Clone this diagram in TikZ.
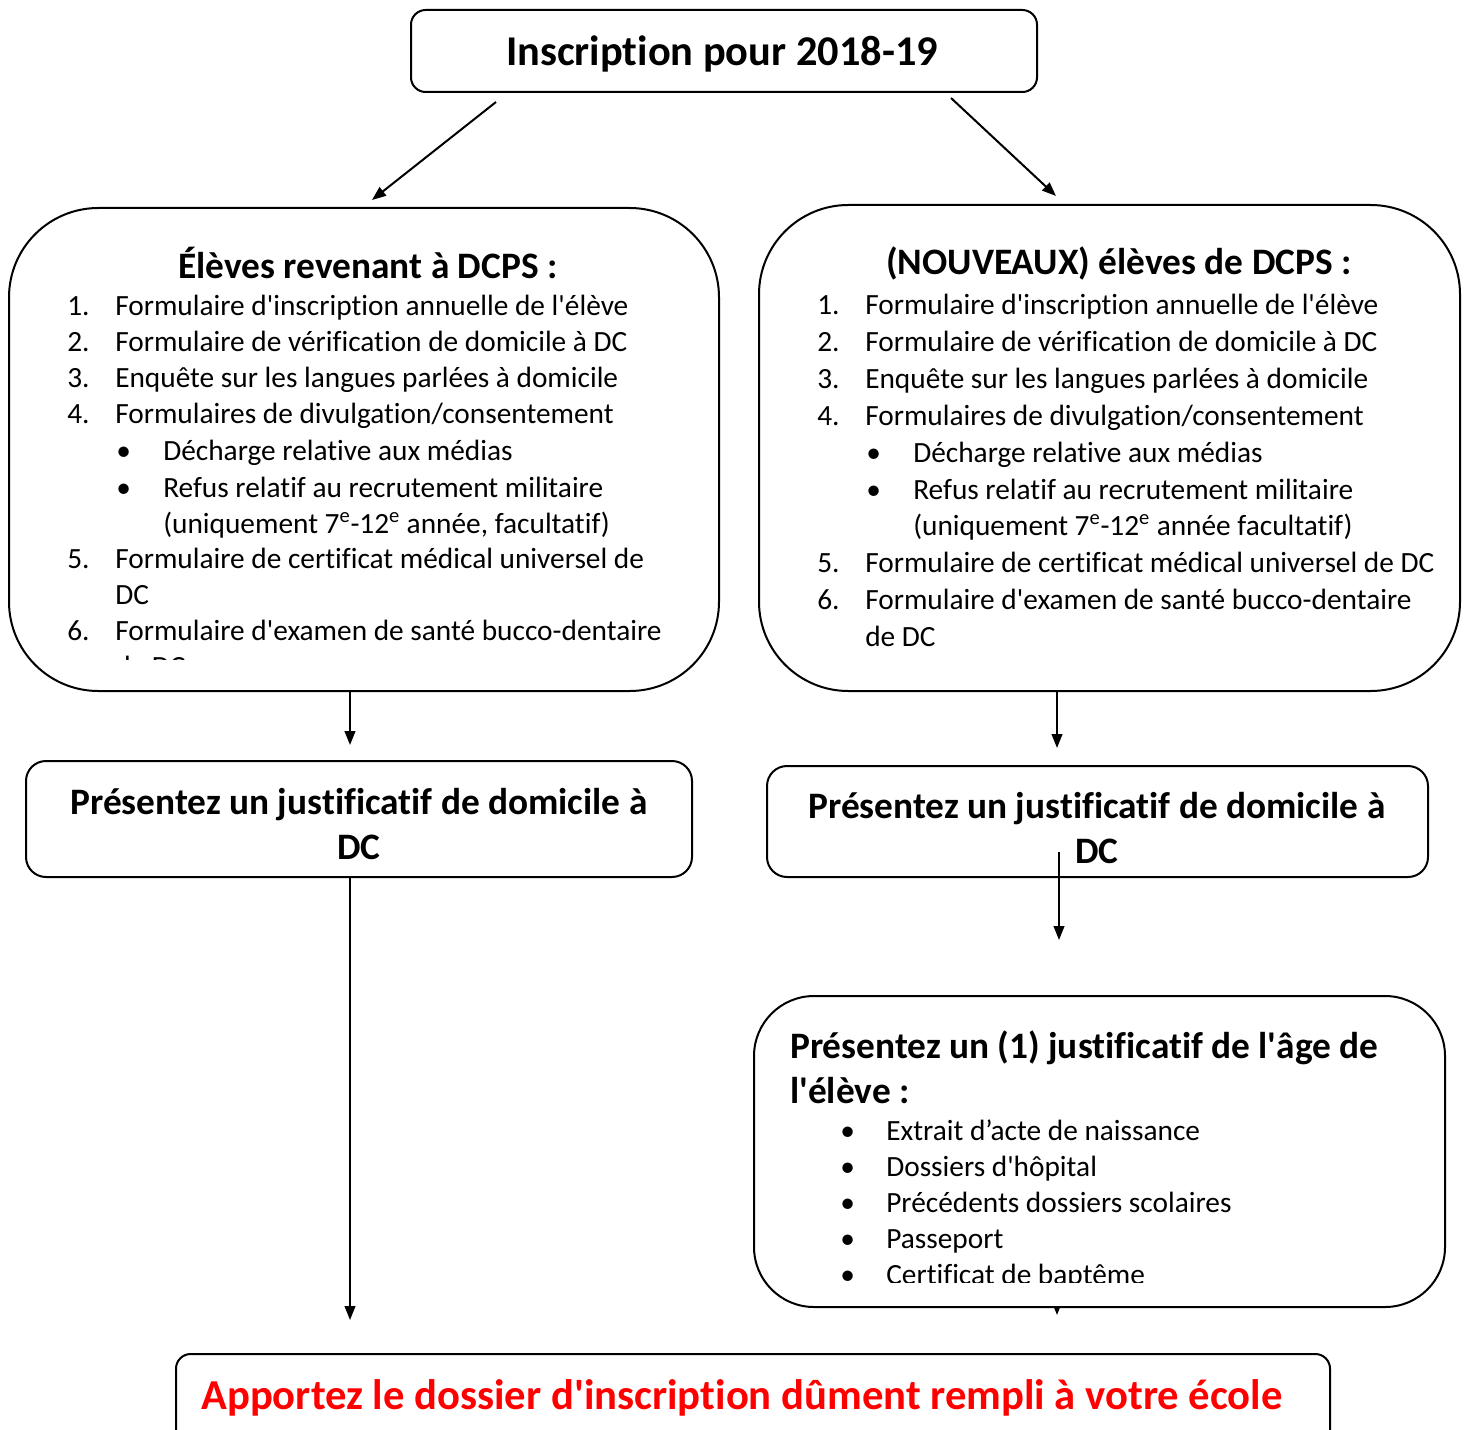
\documentclass[tikz,border=0pt]{standalone}
\usepackage{fontspec}
\setmainfont{Carlito}[Ligatures={TeXOff,NoCommon}]
\usetikzlibrary{arrows.meta}
\begin{document}
\begin{tikzpicture}[x=0.75pt,y=-0.75pt,
  box/.style={draw, line width=1.5pt, fill=white, inner sep=0},
  arr/.style={-{Triangle[length=10.5pt,width=8pt]}, line width=1.5pt},
  body/.style={inner sep=0, anchor=base west, font=\fontsize{22}{26}\selectfont},
  head/.style={inner sep=0, anchor=base, font=\fontsize{28}{32}\selectfont\bfseries},
  big/.style={inner sep=0, anchor=base, font=\fontsize{28}{32}\selectfont\bfseries},
  bigw/.style={inner sep=0, anchor=base west, font=\fontsize{28}{32}\selectfont\bfseries}]
\useasboundingbox (0,0) rectangle (1466,1430);

% boxes
\node[box, rounded corners=11pt, minimum width=469.5pt, minimum height=61.5pt] (top) at (724,51) {};
\node[inner sep=0, anchor=base, font=\fontsize{31.8}{36}\selectfont\bfseries] (toptxt) at (722,66) {Inscription pour 2018-19};

\node[box, rounded corners=67pt, minimum width=532.5pt, minimum height=362.25pt] (lbig) at (364,449.5) {};
\node[box, rounded corners=67pt, minimum width=525.75pt, minimum height=364.5pt] (rbig) at (1109.5,448) {};
\node[box, rounded corners=15pt, minimum width=499.5pt, minimum height=87pt] (lmid) at (359,819) {};
\node[box, rounded corners=15pt, minimum width=495.75pt, minimum height=83.25pt] (rmid) at (1097.5,821.5) {};

% small arrow below age box (mostly hidden)
\coordinate (a6s) at (1057,1290);
\coordinate (a6e) at (1057,1315);
\draw[arr] (a6s) -- (a6e);
\node[box, rounded corners=45pt, minimum width=518.25pt, minimum height=233.25pt] (rage) at (1099.5,1151.5) {};
\node[box, rounded corners=11pt, minimum width=865.5pt, minimum height=72pt] (final) at (753,1402) {};

% arrows
\coordinate (a1s) at (496,102); \coordinate (a1e) at (372,200);
\coordinate (a2s) at (951,98);  \coordinate (a2e) at (1056,196);
\coordinate (a3s) at (350,691); \coordinate (a3e) at (350,745);
\coordinate (a4s) at (1057,691); \coordinate (a4e) at (1057,748);
\coordinate (a5s) at (350,877); \coordinate (a5e) at (350,1320);
\coordinate (a7s) at (1059,852); \coordinate (a7e) at (1059,940);
\draw[arr] (a1s) -- (a1e);
\draw[arr] (a2s) -- (a2e);
\draw[arr] (a3s) -- (a3e);
\draw[arr] (a4s) -- (a4e);
\draw[arr] (a5s) -- (a5e);

% left big box text
\node[head] (lh) at (368,278) {Élèves revenant à DCPS :};
\begin{scope}
\clip (0,0) rectangle (1466,659);
\node[body] (ln1) at (67,315) {1.}; \node[body] (lt1) at (115,315) {Formulaire d'inscription annuelle de l'élève};
\node[body] (ln2) at (67,351) {2.}; \node[body] (lt2) at (115,351) {Formulaire de vérification de domicile à DC};
\node[body] (ln3) at (67,387) {3.}; \node[body] (lt3) at (115,387) {Enquête sur les langues parlées à domicile};
\node[body] (ln4) at (67,423) {4.}; \node[body] (lt4) at (115,423) {Formulaires de divulgation/consentement};
\node[body] (lb1) at (116,460) {•}; \node[body] (lbt1) at (163,460) {Décharge relative aux médias};
\node[body] (lb2) at (116,497) {•}; \node[body] (lbt2) at (163,497) {Refus relatif au recrutement militaire};
\node[body] (lbt3) at (163,533) {(uniquement 7\textsuperscript{e}-12\textsuperscript{e} année, facultatif)};
\node[body] (ln5) at (67,568) {5.}; \node[body] (lt5) at (115,568) {Formulaire de certificat médical universel de};
\node[body] (lt5b) at (115,604) {DC};
\node[body] (ln6) at (67,640) {6.}; \node[body] (lt6) at (115,640) {Formulaire d'examen de santé bucco-dentaire};
\node[body] (lt6b) at (115,676) {de DC};
\end{scope}

% right big box text
\node[head] (rh) at (1119,275) {(NOUVEAUX) élèves de DCPS :};
\node[body] (rn1) at (817,314) {1.}; \node[body] (rt1) at (865,314) {Formulaire d'inscription annuelle de l'élève};
\node[body] (rn2) at (817,351) {2.}; \node[body] (rt2) at (865,351) {Formulaire de vérification de domicile à DC};
\node[body] (rn3) at (817,388) {3.}; \node[body] (rt3) at (865,388) {Enquête sur les langues parlées à domicile};
\node[body] (rn4) at (817,425) {4.}; \node[body] (rt4) at (865,425) {Formulaires de divulgation/consentement};
\node[body] (rb1) at (866,462) {•}; \node[body] (rbt1) at (913,462) {Décharge relative aux médias};
\node[body] (rb2) at (866,499) {•}; \node[body] (rbt2) at (913,499) {Refus relatif au recrutement militaire};
\node[body] (rbt3) at (913,535) {(uniquement 7\textsuperscript{e}-12\textsuperscript{e} année facultatif)};
\node[body] (rn5) at (817,572) {5.}; \node[body] (rt5) at (865,572) {Formulaire de certificat médical universel de DC};
\node[body] (rn6) at (817,609) {6.}; \node[body] (rt6) at (865,609) {Formulaire d'examen de santé bucco-dentaire};
\node[body] (rt6b) at (865,646) {de DC};

% middle boxes text
\node[big] (lm1) at (359,814) {Présentez un justificatif de domicile à};
\node[big] (lm2) at (359,859) {DC};
\node[big] (rm1) at (1097,818) {Présentez un justificatif de domicile à};
\begin{scope}
\clip (0,0) rectangle (1466,866);
\node[big] (rm2) at (1097,863) {DC};
\end{scope}
\draw[arr] (a7s) -- (a7e);

% age box text
\node[bigw] (ag1) at (790,1058) {Présentez un (1) justificatif de l'âge de};
\node[bigw] (ag2) at (790,1103) {l'élève :};
\begin{scope}
\clip (0,0) rectangle (1466,1282);
\node[body] (gb1) at (840,1140) {•}; \node[body] (gt1) at (886,1140) {Extrait d’acte de naissance};
\node[body] (gb2) at (840,1176) {•}; \node[body] (gt2) at (886,1176) {Dossiers d'hôpital};
\node[body] (gb3) at (840,1212) {•}; \node[body] (gt3) at (886,1212) {Précédents dossiers scolaires};
\node[body] (gb4) at (840,1248) {•}; \node[body] (gt4) at (886,1248) {Passeport};
\node[body] (gb5) at (840,1284) {•}; \node[body] (gt5) at (886,1284) {Certificat de baptême};
\end{scope}

% final
\node[inner sep=0, anchor=base, text=red, font=\fontsize{32}{36}\selectfont\bfseries] (fin) at (742,1409) {Apportez le dossier d'inscription dûment rempli à votre école};
\end{tikzpicture}
\end{document}
